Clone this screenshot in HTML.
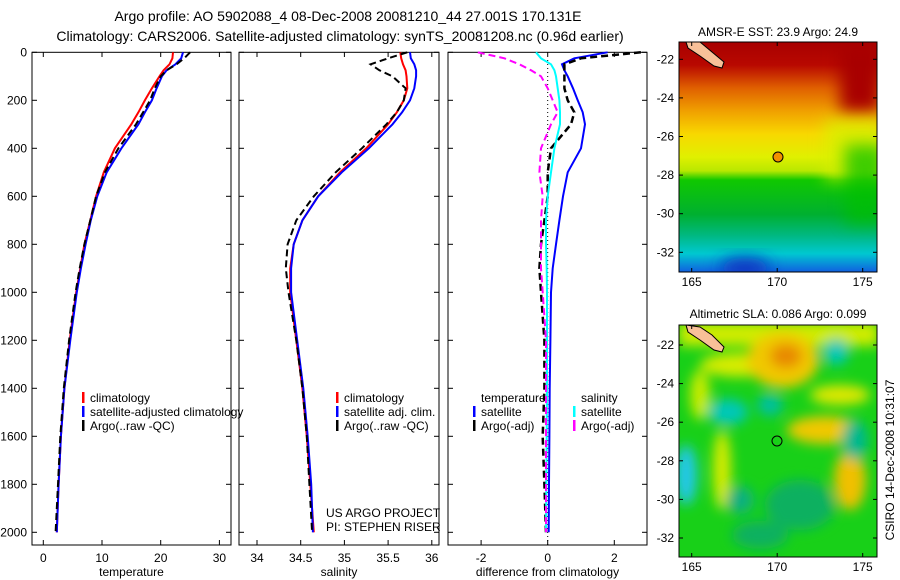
<!DOCTYPE html>
<html><head><meta charset="utf-8">
<style>
html,body{margin:0;padding:0;background:#fff;}
svg{display:block;font-family:"Liberation Sans",sans-serif;}
</style></head>
<body>
<svg id="fig" width="900" height="580" viewBox="0 0 900 580" xmlns="http://www.w3.org/2000/svg">
<defs>
<linearGradient id="sstg" x1="0" y1="0" x2="0" y2="1">
<stop offset="0" stop-color="#a80000"/><stop offset="0.1" stop-color="#b80800"/>
<stop offset="0.2" stop-color="#e06000"/><stop offset="0.3" stop-color="#f0a000"/>
<stop offset="0.4" stop-color="#f8d800"/><stop offset="0.5" stop-color="#e0f000"/>
<stop offset="0.56" stop-color="#b8e800"/><stop offset="0.6" stop-color="#10c800"/>
<stop offset="0.75" stop-color="#00b030"/><stop offset="0.84" stop-color="#00b880"/>
<stop offset="0.92" stop-color="#00c8d0"/><stop offset="1" stop-color="#1060e0"/>
</linearGradient>
<filter id="blur" x="-50%" y="-50%" width="200%" height="200%"><feGaussianBlur stdDeviation="8"/></filter>
<filter id="blur2" x="-50%" y="-50%" width="200%" height="200%"><feGaussianBlur stdDeviation="6"/></filter>
<clipPath id="clipTop"><rect x="679" y="42" width="198" height="230"/></clipPath>
<clipPath id="clipBot"><rect x="679" y="325" width="198" height="232"/></clipPath>
</defs>

<text x="348" y="21" font-size="14" text-anchor="middle">Argo profile: AO 5902088_4 08-Dec-2008 20081210_44 27.001S 170.131E</text>
<text x="340" y="41" font-size="14" text-anchor="middle">Climatology: CARS2006. Satellite-adjusted climatology: synTS_20081208.nc (0.96d earlier)</text>

<g id="panels"></g>

<!-- top map -->
<g>
<g clip-path="url(#clipTop)">
<rect x="679" y="42" width="198" height="230" fill="url(#sstg)"/>
<rect x="840" y="42" width="40" height="70" fill="#a80000" filter="url(#blur)"/>
<rect x="825" y="120" width="60" height="60" fill="#d8f000" filter="url(#blur)" opacity="0.8"/>
<rect x="845" y="145" width="40" height="80" fill="#00c000" filter="url(#blur)" opacity="0.7"/>
<ellipse cx="745" cy="268" rx="25" ry="10" fill="#0830c0" filter="url(#blur)"/>
<polygon points="686,42 700,42 712,52 724,62 722,68 714,66 700,56 688,48" fill="#f8c098" stroke="#000" stroke-width="1"/>
</g>
<rect x="679" y="42" width="198" height="230" fill="none" stroke="#000" stroke-width="1"/>
<circle cx="778" cy="157" r="5" fill="#f09000" stroke="#000" stroke-width="1"/>
<text x="778" y="36" font-size="12" text-anchor="middle">AMSR-E SST: 23.9 Argo: 24.9</text>
</g>

<!-- bottom map -->
<g>
<g clip-path="url(#clipBot)">
<rect x="679" y="325" width="198" height="232" fill="#18d018"/>
<g filter="url(#blur2)">
<rect x="679" y="322" width="200" height="24" fill="#d0ec00"/>
<ellipse cx="740" cy="365" rx="40" ry="12" fill="#d8ec00"/>
<ellipse cx="783" cy="360" rx="36" ry="28" fill="#f0c800"/>
<ellipse cx="786" cy="356" rx="16" ry="12" fill="#e88800"/>
<ellipse cx="728" cy="412" rx="20" ry="13" fill="#00c8b8"/>
<ellipse cx="770" cy="405" rx="13" ry="11" fill="#00c0a0"/>
<ellipse cx="836" cy="352" rx="13" ry="13" fill="#00c8b8"/>
<ellipse cx="686" cy="475" rx="11" ry="30" fill="#20c8e8"/>
<ellipse cx="825" cy="430" rx="38" ry="14" fill="#f0c800"/>
<ellipse cx="850" cy="480" rx="16" ry="30" fill="#f0c000"/>
<ellipse cx="855" cy="440" rx="13" ry="20" fill="#00b890"/>
<ellipse cx="722" cy="470" rx="9" ry="40" fill="#d8ec00"/>
<ellipse cx="700" cy="395" rx="10" ry="25" fill="#c8ec00"/>
<ellipse cx="840" cy="395" rx="30" ry="10" fill="#e0e800"/>
<ellipse cx="800" cy="505" rx="35" ry="25" fill="#10b060"/>
<ellipse cx="760" cy="535" rx="28" ry="14" fill="#10b060"/>
<ellipse cx="740" cy="500" rx="14" ry="14" fill="#10b080"/>
</g>
<polygon points="686,325 700,327 712,335 724,347 722,352 714,350 700,340 688,332" fill="#f8c098" stroke="#000" stroke-width="1"/>
</g>
<rect x="679" y="325" width="198" height="232" fill="none" stroke="#000" stroke-width="1"/>
<circle cx="777" cy="441" r="5" fill="none" stroke="#000" stroke-width="1"/>
<text x="778" y="318" font-size="12" text-anchor="middle">Altimetric SLA: 0.086 Argo: 0.099</text>
</g>
<text transform="translate(894,460) rotate(-90)" font-size="12" text-anchor="middle">CSIRO 14-Dec-2008 10:31:07</text>

<g id="mapaxes"></g>
</svg>
<script>
const depths=[0,25,50,75,100,150,200,250,300,400,500,600,700,800,900,1000,1200,1400,1600,1800,2000];
const tempClim=[22.1,22.0,21.5,20.5,19.8,18.5,17.3,16.2,15.0,12.2,10.3,9.0,8.0,7.0,6.3,5.6,4.5,3.6,3.0,2.6,2.3];
const tempSat=[23.8,23.5,22.5,21.0,20.2,19.3,18.5,17.3,16.2,13.3,10.8,9.2,8.1,7.2,6.4,5.7,4.6,3.6,3.0,2.6,2.3];
const tempArgo=[25.0,24.0,22.7,21.0,20.0,19.0,18.2,17.0,15.8,12.8,10.5,9.0,8.0,7.0,6.2,5.5,4.4,3.5,2.9,2.5,2.1];
const salClim=[35.64,35.65,35.67,35.7,35.71,35.72,35.68,35.6,35.5,35.25,34.95,34.7,34.52,34.42,34.38,34.38,34.45,34.52,34.57,34.61,34.65];
const salSat=[35.75,35.76,35.8,35.82,35.82,35.8,35.75,35.66,35.55,35.28,34.97,34.7,34.52,34.42,34.39,34.39,34.46,34.53,34.58,34.62,34.64];
const salArgo=[35.72,35.5,35.3,35.4,35.55,35.7,35.68,35.6,35.48,35.2,34.9,34.65,34.45,34.35,34.33,34.36,34.45,34.52,34.57,34.6,34.63];
const dTsat=[1.8,0.8,0.43,0.5,0.6,0.76,0.9,1.05,1.12,1.0,0.6,0.46,0.35,0.25,0.15,0.1,0.08,0.06,0.05,0.04,0.03];
const dTargo=[2.8,1.0,0.5,0.5,0.5,0.5,0.6,0.8,0.7,0.1,0.0,0.0,-0.1,-0.2,-0.25,-0.2,-0.1,-0.1,-0.15,-0.1,-0.05];
const dSsat=[-0.35,-0.2,0.1,0.2,0.25,0.3,0.35,0.37,0.37,0.2,0.1,0.0,-0.05,-0.05,-0.03,-0.02,-0.02,-0.02,-0.03,-0.04,-0.05];
const dSargo=[-2.1,-1.3,-0.85,-0.5,-0.2,0.0,0.15,0.3,0.1,-0.2,-0.25,-0.15,-0.2,-0.2,-0.2,-0.15,-0.05,-0.05,-0.05,-0.05,-0.05];
const depthTicks=[0,200,400,600,800,1000,1200,1400,1600,1800,2000];
const tempTicks=[0,10,20,30];
const salTicks=[34,34.5,35,35.5,36];
const diffTicks=[-2,0,2];
const lonTicks=[165,170,175];
const latTicks=[-22,-24,-26,-28,-30,-32];

const NS='http://www.w3.org/2000/svg';
const root=document.getElementById('panels');
function mk(tag,attrs,parent){const e=document.createElementNS(NS,tag);for(const k in attrs)e.setAttribute(k,attrs[k]);(parent||root).appendChild(e);return e;}
const yD=d=>52.3+d*0.24;
const panels=[
 {x0:32,x1:231,sx:v=>43.3+5.87*v,ticks:tempTicks,label:'temperature',name:'temperature'},
 {x0:239,x1:439,sx:v=>257+87.4*(v-34),ticks:salTicks,label:'salinity',name:'salinity'},
 {x0:448,x1:647,sx:v=>547.7+33.3*v,ticks:diffTicks,label:'difference from climatology',name:'difference'}
];
panels.forEach((p,i)=>{
 const g=mk('g',{});
 
 
 const r=mk('rect',{x:p.x0,y:52.3,width:p.x1-p.x0,height:492.7,fill:'none',stroke:'#000','stroke-width':1},g);
 
 
 p.ticks.forEach(t=>{const x=p.sx(t);
  mk('line',{x1:x,x2:x,y1:545,y2:540,stroke:'#000'},g);
  mk('line',{x1:x,x2:x,y1:52.3,y2:57,stroke:'#000'},g);
  const tx=mk('text',{x:x,y:562,'font-size':12,'text-anchor':'middle'},g);tx.textContent=t;
  
  
 });
 depthTicks.forEach(d=>{const y=yD(d);
  mk('line',{x1:p.x0,x2:p.x0+5,y1:y,y2:y,stroke:'#000'},g);
  mk('line',{x1:p.x1,x2:p.x1-5,y1:y,y2:y,stroke:'#000'},g);
  if(i===0){const tx=mk('text',{x:27,y:y+4,'font-size':12,'text-anchor':'end'},g);tx.textContent=d;
   
   }
 });
 const xl=mk('text',{x:(p.x0+p.x1)/2,y:576,'font-size':12,'text-anchor':'middle'},g);xl.textContent=p.label;
 
 
});
function line(p,vals,color,dash,name,w){
 const pts=vals.map((v,i)=>p.sx(v).toFixed(1)+','+yD(depths[i]).toFixed(1)).join(' ');
 const e=mk('polyline',{points:pts,fill:'none',stroke:color,'stroke-width':w||2,'stroke-dasharray':dash||'none'});
 
 
}
const P=panels;
mk('line',{x1:P[2].sx(0),x2:P[2].sx(0),y1:60,y2:545,stroke:'#000','stroke-dasharray':'1,3'});
line(P[0],tempClim,'#f00',null,'temp-climatology-line');
line(P[0],tempSat,'#00f',null,'temp-satellite-line');
line(P[0],tempArgo,'#000','7,4','temp-argo-line');
line(P[1],salClim,'#f00',null,'sal-climatology-line');
line(P[1],salSat,'#00f',null,'sal-satellite-line');
line(P[1],salArgo,'#000','7,4','sal-argo-line');
line(P[2],dTsat,'#00f',null,'diff-temp-satellite-line');
line(P[2],dTargo,'#000','7,4','diff-temp-argo-line',2.5);
line(P[2],dSsat,'#0ff',null,'diff-sal-satellite-line');
line(P[2],dSargo,'#f0f','7,4','diff-sal-argo-line');

function legend(x,y,color,text,name){
 const g=mk('g',{});
 
 
 if(color)mk('rect',{x:x,y:y-6,width:2.5,height:11,fill:color},g);
 const t=mk('text',{x:x+8,y:y+4,'font-size':12},g);t.textContent=text;
}
legend(82,398,'#f00','climatology','legend-temp-climatology');
legend(82,412,'#00f','satellite-adjusted climatology','legend-temp-satellite');
legend(82,426,'#000','Argo(..raw -QC)','legend-temp-argo');
legend(336,398,'#f00','climatology','legend-sal-climatology');
legend(336,412,'#00f','satellite adj. clim.','legend-sal-satellite');
legend(336,426,'#000','Argo(..raw -QC)','legend-sal-argo');
legend(473,398,null,'temperature','legend-diff-temp-header');
legend(473,412,'#00f','satellite','legend-diff-temp-satellite');
legend(473,426,'#000','Argo(-adj)','legend-diff-temp-argo');
legend(573,398,null,'salinity','legend-diff-sal-header');
legend(573,412,'#0ff','satellite','legend-diff-sal-satellite');
legend(573,426,'#f0f','Argo(-adj)','legend-diff-sal-argo');
const c1=mk('text',{x:326,y:517,'font-size':12});c1.textContent='US ARGO PROJECT';


const c2=mk('text',{x:326,y:531,'font-size':12});c2.textContent='PI: STEPHEN RISER';



// map axes
const ma=document.getElementById('mapaxes');
const lonX=l=>691.7+(l-165)*17.1;
[[42,272,59.3],[325,557,345]].forEach(([t,b,y22],mi)=>{
 lonTicks.forEach(l=>{const x=lonX(l);
  mk('line',{x1:x,x2:x,y1:b,y2:b-4,stroke:'#000'},ma);
  mk('line',{x1:x,x2:x,y1:t,y2:t+4,stroke:'#000'},ma);
  const tx=mk('text',{x:x,y:b+14,'font-size':12,'text-anchor':'middle'},ma);tx.textContent=l;
  
  
 });
 latTicks.forEach(la=>{const y=y22+(-22-la)*19.3;
  mk('line',{x1:679,x2:683,y1:y,y2:y,stroke:'#000'},ma);
  mk('line',{x1:877,x2:873,y1:y,y2:y,stroke:'#000'},ma);
  const tx=mk('text',{x:674,y:y+4,'font-size':12,'text-anchor':'end'},ma);tx.textContent=la;
  
  
 });
});
</script>
</body></html>
